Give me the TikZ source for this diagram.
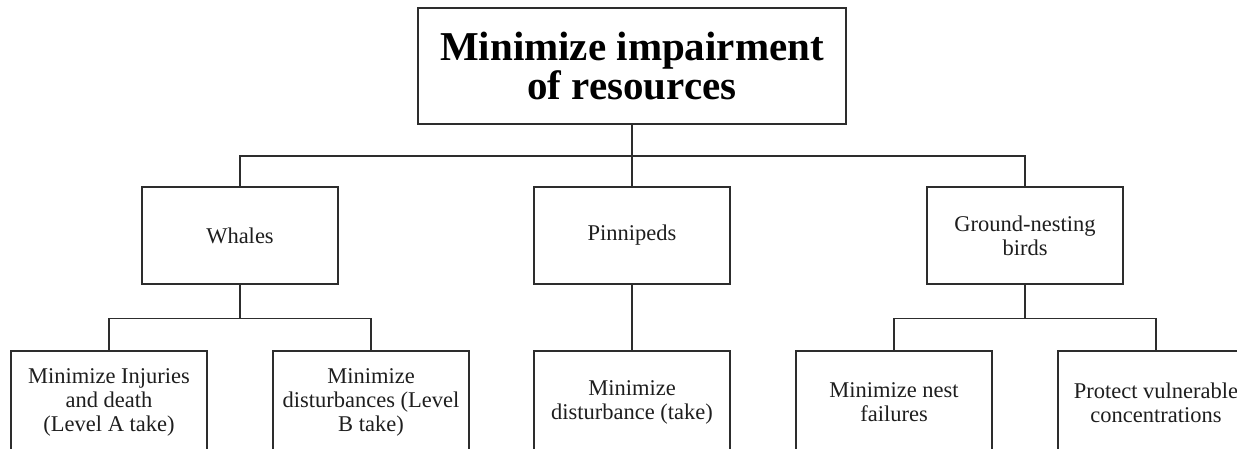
\documentclass[tikz,border=0pt]{standalone}
\usepackage{fontspec}
\setmainfont{Liberation Serif}
\usepackage{xcolor}
\usetikzlibrary{positioning}
\definecolor{lineGray}{RGB}{45,45,45}
\definecolor{textGray}{RGB}{30,30,30}

\begin{document}
\begin{tikzpicture}[x=1pt,y=1pt,
  box/.style={draw=lineGray,line width=1.7pt,minimum width=196pt,minimum height=97pt,inner sep=0pt,align=center,text=textGray,font=\fontsize{22.5}{24}\selectfont},
  leaf/.style={box,minimum height=103pt},
  link/.style={draw=lineGray,line width=1.7pt}]
\useasboundingbox (0,0) rectangle (1237,-448);
% top goal
\node[draw=lineGray,line width=1.7pt,minimum width=428pt,minimum height=116pt,inner sep=0pt,align=center,font=\fontsize{41}{39}\selectfont\bfseries] (root) at (632,-66) {Minimize impairment\\of resources};
% species groups
\node[box] (whales) at (240,-235.5) {Whales};
\node[box] (pinni) at (632,-235.5) {Pinnipeds};
\node[box] (birds) at (1025,-235.5) {Ground-nesting\\birds};
% objectives (bottom edge runs off the page)
\node[leaf] (injury) at (109,-402.5) {Minimize Injuries\\and death\\(Level A take)};
\node[leaf] (harass) at (371,-402.5) {Minimize\\disturbances (Level\\B take)};
\node[leaf] (pdist) at (632,-402.5) {Minimize\\disturbance (take)};
\node[leaf] (nest) at (894,-402.5) {Minimize nest\\failures};
\node[leaf] (protect) at (1156,-402.5) {Protect vulnerable\\concentrations};
% connectors
\draw[link] (root.south) -- ++(0,-31) -| (whales.north);
\draw[link] (root.south) -- (pinni.north);
\draw[link] (root.south) -- ++(0,-31) -| (birds.north);
\draw[link] (whales.south) -- ++(0,-33.5) -| (injury.north);
\draw[link] (whales.south) -- ++(0,-33.5) -| (harass.north);
\draw[link] (pinni.south) -- (pdist.north);
\draw[link] (birds.south) -- ++(0,-33.5) -| (nest.north);
\draw[link] (birds.south) -- ++(0,-33.5) -| (protect.north);
\end{tikzpicture}
\end{document}
